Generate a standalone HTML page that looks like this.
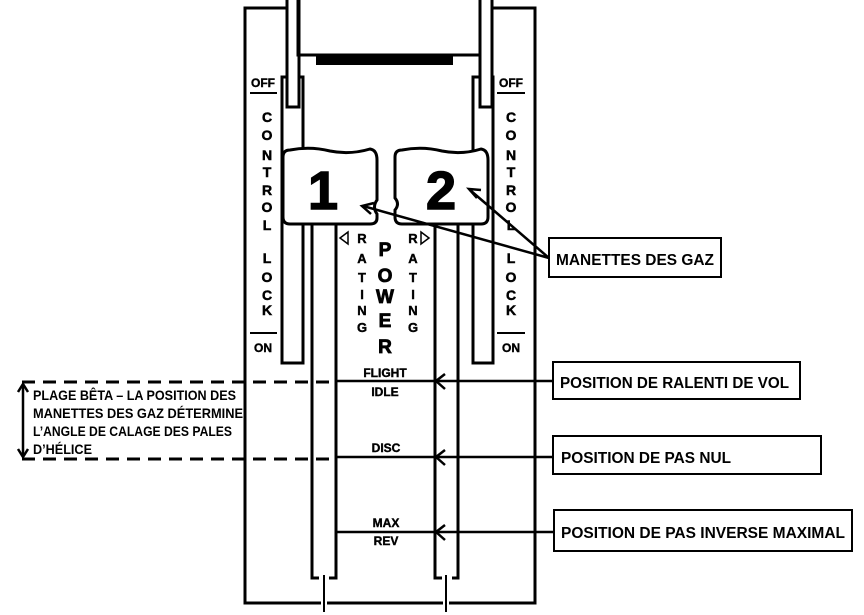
<!DOCTYPE html>
<html><head><meta charset="utf-8"><style>html,body{margin:0;padding:0;background:#fff}svg{display:block}</style></head><body>
<svg width="864" height="615" viewBox="0 0 864 615" xmlns="http://www.w3.org/2000/svg" font-family="Liberation Sans, sans-serif">
<g fill="none" stroke="#000" stroke-width="3">
<path d="M287 8 H245 V603 H321 M327 603 H443 M449 603 H535 V8 H492"/>
<path d="M298 0 V55 H480 V0"/>
<path d="M287 0 V107 H299 V0"/>
<path d="M480 0 V107 H492 V0"/>
<path d="M287 77 H282 V363 H303 V77 H299"/>
<path d="M480 77 H473 V363 H493 V77 H492"/>
<path d="M312 224 V578 H319 M329 578 H336 V224"/>
<path d="M435 224 V578 H442 M452 578 H458 V224"/>
<path d="M324 575 V612 M446 575 V612" stroke-width="2"/>
<path d="M290 150 Q310 146 330 151 Q350 155 370 149 Q377 150 377 160 V200 Q372 207 377 214 V218 Q377 224 370 224 H290 Q283 224 283 217 V157 Q283 150 290 150 Z" fill="#fff"/>
<path d="M402 150 Q422 146 442 151 Q462 155 481 149 Q488 150 488 160 V217 Q488 224 481 224 H402 Q395 224 395 217 V210 Q400 204 395 198 V157 Q395 150 402 150 Z" fill="#fff"/>
<path d="M336 381 H553 M336 457 H553 M336 532 H554" stroke-width="2.5"/>
<path d="M445 374 L436 381 L445 389 M445 450 L436 457 L445 465 M445 525 L436 532 L445 540" stroke-width="2.5"/>
<path d="M22 382 H336 M22 459 H336" stroke-dasharray="13 8" stroke-width="3"/>
<path d="M23 386 V455" stroke-width="2.5"/>
<path d="M18 392 L23 384 L28 392 M18 449 L23 457 L28 449" stroke-width="2.5"/>
<path d="M549 258 L363 206 M549 258 L470 190" stroke-width="2.5"/>
<path d="M374 203 L362 206 L371 214 M477 198 L469 189 L481 190" stroke-width="2.5"/>
<g stroke-width="2">
<rect x="549" y="238" width="172" height="39"/>
<rect x="553" y="362" width="247" height="37"/>
<rect x="553" y="436" width="268" height="38"/>
<rect x="554" y="510" width="298" height="41"/>
</g>
<path d="M250 93 H277 M250 333 H277 M497 93 H525 M497 333 H525" stroke-width="2"/>
<path d="M348 232 L340 238 L348 244 Z M421 232 L429 238 L421 244 Z" stroke-width="1.5"/>
</g>
<rect x="316" y="55" width="137" height="10" fill="#000"/>
<g font-weight="bold" fill="#000" text-anchor="middle">
<g font-size="54" stroke="#000" stroke-width="1.5">
<text x="323" y="209">1</text>
<text x="441" y="209">2</text>
</g>
<g font-size="12" stroke="#000" stroke-width="0.4">
<text x="263" y="87">OFF</text><text x="263" y="352">ON</text>
<text x="511" y="87">OFF</text><text x="511" y="352">ON</text>
<text x="385" y="377">FLIGHT</text><text x="385" y="396">IDLE</text>
<text x="386" y="452">DISC</text>
<text x="386" y="527">MAX</text><text x="386" y="545">REV</text>
</g>
<g font-size="14" stroke="#000" stroke-width="0.5">
<text x="267" y="122">C</text><text x="267" y="140">O</text><text x="267" y="160">N</text><text x="267" y="177">T</text><text x="267" y="195">R</text><text x="267" y="212">O</text><text x="267" y="230">L</text>
<text x="267" y="263">L</text><text x="267" y="282">O</text><text x="267" y="300">C</text><text x="267" y="315">K</text>
<text x="511" y="122">C</text><text x="511" y="140">O</text><text x="511" y="160">N</text><text x="511" y="177">T</text><text x="511" y="195">R</text><text x="511" y="212">O</text><text x="511" y="230">L</text>
<text x="511" y="263">L</text><text x="511" y="282">O</text><text x="511" y="300">C</text><text x="511" y="315">K</text>
</g>
<g font-size="13" stroke="#000" stroke-width="0.4">
<text x="362" y="243">R</text><text x="362" y="263">A</text><text x="362" y="282">T</text><text x="362" y="299">I</text><text x="362" y="315">N</text><text x="362" y="332">G</text>
<text x="413" y="243">R</text><text x="413" y="263">A</text><text x="413" y="282">T</text><text x="413" y="299">I</text><text x="413" y="315">N</text><text x="413" y="332">G</text>
</g>
<g font-size="19" stroke="#000" stroke-width="0.8">
<text x="385" y="256">P</text><text x="385" y="282">O</text><text x="385" y="303">W</text><text x="385" y="327">E</text><text x="385" y="353">R</text>
</g>
</g>
<g font-weight="bold" fill="#000" font-size="16">
<text x="556" y="265" textLength="158" lengthAdjust="spacingAndGlyphs">MANETTES DES GAZ</text>
<text x="560" y="388" textLength="229" lengthAdjust="spacingAndGlyphs">POSITION DE RALENTI DE VOL</text>
<text x="561" y="463" textLength="170" lengthAdjust="spacingAndGlyphs">POSITION DE PAS NUL</text>
<text x="561" y="538" textLength="284" lengthAdjust="spacingAndGlyphs">POSITION  DE PAS INVERSE MAXIMAL</text>
<g font-size="14">
<text x="33" y="400" textLength="203" lengthAdjust="spacingAndGlyphs">PLAGE BÊTA – LA POSITION DES</text>
<text x="33" y="418" textLength="210" lengthAdjust="spacingAndGlyphs">MANETTES DES GAZ DÉTERMINE</text>
<text x="33" y="436" textLength="199" lengthAdjust="spacingAndGlyphs">L’ANGLE DE CALAGE DES PALES</text>
<text x="33" y="454" textLength="59" lengthAdjust="spacingAndGlyphs">D’HÉLICE</text>
</g>
</g>
</svg>
</body></html>
